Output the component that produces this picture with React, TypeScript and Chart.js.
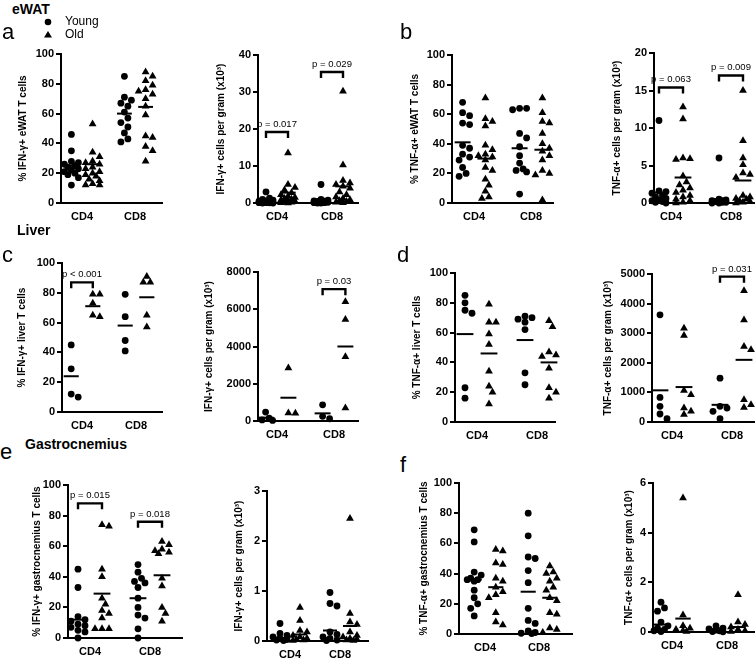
import React, { useEffect, useRef } from "react";
import { Chart, registerables } from "chart.js";
Chart.register(...registerables);

const FONT = "'Liberation Sans', Arial, Helvetica, sans-serif";
Chart.defaults.font.family = FONT;
Chart.defaults.color = "#000";

const categories = ["CD4", "CD8"];

// ---- eWAT IFN-γ % (a, left) ----
const aPctYoungCD4 = [46, 35, 28, 27, 26, 25, 24, 23, 22, 21, 20, 19, 17, 12];
const aPctOldCD4 = [53, 34, 31, 28, 27, 26, 24, 23, 21, 20, 19, 18, 16, 15, 13, 12, 12];
const aPctYoungCD8 = [85, 71, 69, 67, 65, 61, 57, 54, 51, 47, 43, 41];
const aPctOldCD8 = [88, 85, 82, 79, 76, 75, 73, 70, 65, 59, 45, 44, 38, 35, 28];
const aPctMeanYoung = [25, 60];
const aPctMeanOld = [26, 64.5];

// ---- eWAT IFN-γ per gram (a, right) ----
const aCntYoungCD4 = [3.0, 1.3, 1.0, 0.8, 0.6, 0.5, 0.4, 0.3, 0.2, 0.1, 0.1, 0.05, 0.0, 0.0];
const aCntOldCD4 = [13.5, 5.0, 4.2, 3.5, 2.8, 2.2, 1.8, 1.5, 1.2, 1.0, 0.8, 0.6, 0.5, 0.3, 0.2, 0.1, 0.0];
const aCntYoungCD8 = [5.0, 1.0, 0.8, 0.6, 0.5, 0.4, 0.3, 0.2, 0.1, 0.1, 0.0, 0.0];
const aCntOldCD8 = [30.2, 10.3, 6.1, 5.4, 5.0, 4.5, 4.0, 3.0, 2.2, 1.6, 1.2, 0.9, 0.6, 0.4, 0.2, 0.1];
const aCntMeanYoung = [0.7, 0.7];
const aCntMeanOld = [2.8, 4.5];

// ---- eWAT TNF-α % (b, left) ----
const bPctYoungCD4 = [68, 61, 59, 54, 53, 39, 37, 33, 31, 29, 24, 20, 18];
const bPctOldCD4 = [71, 57, 55, 52, 39, 36, 33, 32, 31, 29, 24, 22, 16, 12, 8, 4, 3];
const bPctYoungCD8 = [64, 64, 63, 47, 44, 38, 32, 27, 23, 22, 21, 6];
const bPctOldCD8 = [71, 61, 55, 54, 47, 40, 37, 35, 32, 29, 22, 20, 19, 2];
const bPctMeanYoung = [41, 37];
const bPctMeanOld = [30, 36];

// ---- eWAT TNF-α per gram (b, right) ----
const bCntYoungCD4 = [11.0, 1.6, 1.5, 1.3, 1.0, 0.8, 0.6, 0.4, 0.3, 0.2, 0.1, 0.0];
const bCntOldCD4 = [12.8, 11.2, 6.0, 5.9, 5.8, 3.6, 2.8, 2.4, 2.0, 1.7, 1.4, 1.0, 0.8, 0.5, 0.3, 0.1, 0.0];
const bCntYoungCD8 = [6.0, 0.5, 0.4, 0.3, 0.3, 0.2, 0.2, 0.1, 0.1, 0.0, 0.0];
const bCntOldCD8 = [15.0, 8.3, 6.0, 5.1, 4.0, 3.8, 3.4, 1.0, 0.8, 0.6, 0.5, 0.3, 0.2, 0.1, 0.0];
const bCntMeanYoung = [1.4, 0.3];
const bCntMeanOld = [3.4, 3.0];

// ---- Liver IFN-γ % (c, left) ----
const cPctYoungCD4 = [45, 29, 12, 10];
const cPctOldCD4 = [79, 79, 73, 65, 64];
const cPctYoungCD8 = [79, 64, 48, 41];
const cPctOldCD8 = [91, 87, 87, 65, 57];
const cPctMeanYoung = [24, 58];
const cPctMeanOld = [71, 77];

// ---- Liver IFN-γ per gram (c, right) ----
const cCntYoungCD4 = [480, 150, 60, 30];
const cCntOldCD4 = [2850, 430, 410];
const cCntYoungCD8 = [870, 250, 120];
const cCntOldCD8 = [6400, 5450, 3450, 700];
const cCntMeanYoung = [180, 410];
const cCntMeanOld = [1250, 4000];

// ---- Liver TNF-α % (d, left) ----
const dPctYoungCD4 = [85, 80, 75, 73, 23, 16];
const dPctOldCD4 = [79, 67, 67, 59, 52, 34, 24, 20, 12];
const dPctYoungCD8 = [71, 70, 69, 67, 62, 33, 25];
const dPctOldCD8 = [68, 64, 47, 45, 44, 36, 23, 20, 16];
const dPctMeanYoung = [59, 55];
const dPctMeanOld = [46, 40];

// ---- Liver TNF-α per gram (d, right) ----
const dCntYoungCD4 = [3620, 830, 530, 270, 110];
const dCntOldCD4 = [3170, 2920, 1060, 920, 470, 360, 250];
const dCntYoungCD8 = [1480, 530, 470, 360, 110];
const dCntOldCD8 = [4430, 3450, 2550, 2440, 750, 580, 490];
const dCntMeanYoung = [1070, 580];
const dCntMeanOld = [1180, 2100];

// ---- Gastrocnemius IFN-γ % (e, left) ----
const ePctYoungCD4 = [45, 33, 14, 12, 11, 9, 8, 7, 5, 4, 0];
const ePctOldCD4 = [74, 73, 45, 40, 26, 22, 18, 16, 13, 6, 6, 6];
const ePctYoungCD8 = [48, 43, 39, 37, 36, 33, 26, 20, 15, 13, 6, 0];
const ePctOldCD8 = [63, 61, 58, 57, 56, 55, 39, 34, 20, 16, 11];
const ePctMeanYoung = [12, 26];
const ePctMeanOld = [29, 41];

// ---- Gastrocnemius IFN-γ per gram (e, right) ----
const eCntYoungCD4 = [0.35, 0.15, 0.11, 0.08, 0.05, 0.03, 0.02, 0.01];
const eCntOldCD4 = [0.67, 0.41, 0.21, 0.18, 0.11, 0.08, 0.05, 0.03, 0.02, 0.01];
const eCntYoungCD8 = [0.97, 0.75, 0.7, 0.18, 0.13, 0.08, 0.05, 0.02, 0.01];
const eCntOldCD8 = [2.45, 0.55, 0.38, 0.33, 0.18, 0.11, 0.08, 0.05, 0.03, 0.02, 0.01];
const eCntMeanYoung = [0.06, 0.21];
const eCntMeanOld = [0.13, 0.3];

// ---- Gastrocnemius TNF-α % (f, left) ----
const fPctYoungCD4 = [69, 61, 41, 39, 37, 36, 36, 35, 29, 24, 20, 17, 12];
const fPctOldCD4 = [56, 55, 47, 46, 37, 35, 31, 28, 26, 24, 14, 8, 6];
const fPctYoungCD8 = [80, 65, 51, 50, 42, 34, 17, 9, 7, 2, 1, 0.5, 0.3];
const fPctOldCD8 = [45, 41, 40, 37, 35, 31, 29, 24, 22, 14, 13, 4, 3, 1];
const fPctMeanYoung = [36, 28];
const fPctMeanOld = [31, 24];

// ---- Gastrocnemius TNF-α per gram (f, right) ----
const fCntYoungCD4 = [1.2, 0.97, 0.84, 0.4, 0.25, 0.16, 0.1, 0.05, 0.02];
const fCntOldCD4 = [5.4, 0.68, 0.25, 0.15, 0.1, 0.05, 0.02];
const fCntYoungCD8 = [0.25, 0.16, 0.12, 0.08, 0.05, 0.02, 0.01];
const fCntOldCD8 = [1.5, 0.4, 0.3, 0.2, 0.1, 0.05, 0.02];
const fCntMeanYoung = [0.3, 0.06];
const fCntMeanOld = [0.54, 0.2];

type PVal = { cat: number; y: number; text: string };
type Geo = { L: number; T: number; R: number; B: number; tx: number; c4: number; c8: number };
type PanelDef = {
  title: string;
  yMax: number;
  yStep: number;
  young: number[][];
  old: number[][];
  meanYoung: number[];
  meanOld: number[];
  pvals: PVal[];
  geo: Geo;
};

const panels: PanelDef[] = [
  { title: "% IFN-γ+ eWAT T cells", yMax: 100, yStep: 20, young: [aPctYoungCD4, aPctYoungCD8], old: [aPctOldCD4, aPctOldCD8], meanYoung: aPctMeanYoung, meanOld: aPctMeanOld, pvals: [], geo: { L: 61, T: 54, R: 162, B: 203, tx: 23, c4: 82, c8: 135 } },
  { title: "IFN-γ+ cells per gram (x10³)", yMax: 40, yStep: 10, young: [aCntYoungCD4, aCntYoungCD8], old: [aCntOldCD4, aCntOldCD8], meanYoung: aCntMeanYoung, meanOld: aCntMeanOld, pvals: [{ cat: 1, y: 19.2, text: "p = 0.017" }, { cat: 2, y: 35.4, text: "p = 0.029" }], geo: { L: 258, T: 55, R: 358, B: 203, tx: 221, c4: 277, c8: 332 } },
  { title: "% TNF-α+ eWAT T cells", yMax: 100, yStep: 20, young: [bPctYoungCD4, bPctYoungCD8], old: [bPctOldCD4, bPctOldCD8], meanYoung: bPctMeanYoung, meanOld: bPctMeanOld, pvals: [], geo: { L: 452, T: 55, R: 553, B: 203, tx: 415, c4: 474, c8: 531 } },
  { title: "TNF-α+ cells per gram (x10³)", yMax: 20, yStep: 5, young: [bCntYoungCD4, bCntYoungCD8], old: [bCntOldCD4, bCntOldCD8], meanYoung: bCntMeanYoung, meanOld: bCntMeanOld, pvals: [{ cat: 1, y: 15.4, text: "p = 0.063" }, { cat: 2, y: 17.0, text: "p = 0.009" }], geo: { L: 654, T: 53, R: 757, B: 203, tx: 617, c4: 671, c8: 731 } },
  { title: "% IFN-γ+ liver T cells", yMax: 100, yStep: 20, young: [cPctYoungCD4, cPctYoungCD8], old: [cPctOldCD4, cPctOldCD8], meanYoung: cPctMeanYoung, meanOld: cPctMeanOld, pvals: [{ cat: 1, y: 87, text: "p < 0.001" }], geo: { L: 62, T: 263, R: 162, B: 412, tx: 22, c4: 82, c8: 136 } },
  { title: "IFN-γ+ cells per gram (x10³)", yMax: 8000, yStep: 2000, young: [cCntYoungCD4, cCntYoungCD8], old: [cCntOldCD4, cCntOldCD8], meanYoung: cCntMeanYoung, meanOld: cCntMeanOld, pvals: [{ cat: 2, y: 7080, text: "p = 0.03" }], geo: { L: 258, T: 272, R: 358, B: 421, tx: 209, c4: 277, c8: 334 } },
  { title: "% TNF-α+ liver T cells", yMax: 100, yStep: 20, young: [dPctYoungCD4, dPctYoungCD8], old: [dPctOldCD4, dPctOldCD8], meanYoung: dPctMeanYoung, meanOld: dPctMeanOld, pvals: [], geo: { L: 455, T: 273, R: 555, B: 422, tx: 417, c4: 477, c8: 537 } },
  { title: "TNF-α+ cells per gram (x10³)", yMax: 5000, yStep: 1000, young: [dCntYoungCD4, dCntYoungCD8], old: [dCntOldCD4, dCntOldCD8], meanYoung: dCntMeanYoung, meanOld: dCntMeanOld, pvals: [{ cat: 2, y: 4910, text: "p = 0.031" }], geo: { L: 652, T: 274, R: 757, B: 422, tx: 608, c4: 672, c8: 732 } },
  { title: "% IFN-γ+ gastrocnemius T cells", yMax: 100, yStep: 20, young: [ePctYoungCD4, ePctYoungCD8], old: [ePctOldCD4, ePctOldCD8], meanYoung: ePctMeanYoung, meanOld: ePctMeanOld, pvals: [{ cat: 1, y: 88, text: "p = 0.015" }, { cat: 2, y: 76, text: "p = 0.018" }], geo: { L: 68, T: 485, R: 182, B: 638, tx: 37, c4: 90, c8: 150 } },
  { title: "IFN-γ+ cells per gram (x10³)", yMax: 3, yStep: 1, young: [eCntYoungCD4, eCntYoungCD8], old: [eCntOldCD4, eCntOldCD8], meanYoung: eCntMeanYoung, meanOld: eCntMeanOld, pvals: [], geo: { L: 267, T: 491, R: 368, B: 641, tx: 239, c4: 290, c8: 340 } },
  { title: "% TNF-α+ gastrocnemius T cells", yMax: 100, yStep: 20, young: [fPctYoungCD4, fPctYoungCD8], old: [fPctOldCD4, fPctOldCD8], meanYoung: fPctMeanYoung, meanOld: fPctMeanOld, pvals: [], geo: { L: 459, T: 483, R: 572, B: 634, tx: 424, c4: 485, c8: 539 } },
  { title: "TNF-α+ cells per gram (x10³)", yMax: 6, yStep: 2, young: [fCntYoungCD4, fCntYoungCD8], old: [fCntOldCD4, fCntOldCD8], meanYoung: fCntMeanYoung, meanOld: fCntMeanOld, pvals: [], geo: { L: 653, T: 483, R: 757, B: 632, tx: 629, c4: 672, c8: 727 } },
];

const PAD_TOP = 18;
const PAD_RIGHT = 12;
const X_H = 24;
const GROUP_OFF = 0.2;
const MEAN_HALF = 0.14;

// simple deterministic beeswarm: horizontal pixel offsets so markers do not sit on top of each other
function swarm(values: number[], pxPerY: number): number[] {
  const order = values.map((_, i) => i).sort((a, b) => values[b] - values[a]);
  const placed: { x: number; y: number }[] = [];
  const offs = new Array(values.length).fill(0);
  const cands = [0, 3.5, -3.5, 7, -7];
  const D = 6.5;
  for (const i of order) {
    const y = values[i] * pxPerY;
    let best = 0;
    let bestScore = -Infinity;
    for (const c of cands) {
      let minD = Infinity;
      for (const p of placed) {
        const d = Math.hypot(p.x - c, p.y - y);
        if (d < minD) minD = d;
      }
      if (minD >= D) {
        best = c;
        break;
      }
      if (minD > bestScore) {
        bestScore = minD;
        best = c;
      }
    }
    placed.push({ x: best, y });
    offs[i] = best;
  }
  return offs;
}

const pvalPlugin = {
  id: "pvals",
  afterDatasetsDraw(chart: any, _args: any, opts: any) {
    const items = (opts && opts.items) || [];
    const { ctx } = chart;
    const xs = chart.scales.x;
    const ys = chart.scales.y;
    ctx.save();
    ctx.font = `9.5px ${FONT}`;
    ctx.fillStyle = "#000";
    ctx.textAlign = "center";
    ctx.textBaseline = "bottom";
    for (const it of items) {
      ctx.fillText(it.text, xs.getPixelForValue(it.cat), ys.getPixelForValue(it.y) - 3);
    }
    ctx.restore();
  },
};

function canvasBox(g: Geo) {
  const left = g.tx - 8;
  const top = g.T - PAD_TOP;
  const width = g.R + PAD_RIGHT - left;
  const height = g.B + X_H - top;
  return { left, top, width, height };
}

function PanelChart({ p }: { p: PanelDef }) {
  const ref = useRef<HTMLCanvasElement>(null);
  const box = canvasBox(p.geo);
  useEffect(() => {
    const g = p.geo;
    const unit = g.c8 - g.c4;
    const xMin = 1 - (g.c4 - g.L) / unit;
    const xMax = 2 + (g.R - g.c8) / unit;
    const plotH = g.B - g.T;
    const pxPerY = plotH / p.yMax;
    const leg = (6 / plotH) * p.yMax;

    const datasets: any[] = [];
    categories.forEach((_, ci) => {
      const c = ci + 1;
      const yv = p.young[ci];
      const yo = swarm(yv, pxPerY);
      datasets.push({
        data: yv.map((v, i) => ({ x: c - GROUP_OFF + yo[i] / unit, y: v })),
        pointStyle: "circle",
        pointRadius: 3.4,
        backgroundColor: "#000",
        borderWidth: 0,
        showLine: false,
        clip: false,
      });
      const ov = p.old[ci];
      const oo = swarm(ov, pxPerY);
      datasets.push({
        data: ov.map((v, i) => ({ x: c + GROUP_OFF + oo[i] / unit, y: v })),
        pointStyle: "triangle",
        pointRadius: 4.5,
        backgroundColor: "#000",
        borderWidth: 0,
        showLine: false,
        clip: false,
      });
      [
        [c - GROUP_OFF, p.meanYoung[ci]],
        [c + GROUP_OFF, p.meanOld[ci]],
      ].forEach(([cx, m]) => {
        datasets.push({
          data: [
            { x: cx - MEAN_HALF, y: m },
            { x: cx + MEAN_HALF, y: m },
          ],
          showLine: true,
          borderColor: "#000",
          borderWidth: 2,
          pointRadius: 0,
          clip: false,
        });
      });
    });
    p.pvals.forEach((pv) => {
      datasets.push({
        data: [
          { x: pv.cat - GROUP_OFF, y: pv.y - leg },
          { x: pv.cat - GROUP_OFF, y: pv.y },
          { x: pv.cat + GROUP_OFF, y: pv.y },
          { x: pv.cat + GROUP_OFF, y: pv.y - leg },
        ],
        showLine: true,
        borderColor: "#000",
        borderWidth: 2.4,
        pointRadius: 0,
        clip: false,
      });
    });

    const yw = g.L - box.left;
    const chart = new Chart(ref.current as HTMLCanvasElement, {
      type: "scatter",
      data: { datasets },
      plugins: [pvalPlugin as any],
      options: {
        responsive: false,
        animation: false,
        events: [],
        layout: { padding: { top: PAD_TOP, right: PAD_RIGHT, left: 0, bottom: 0 } },
        plugins: {
          legend: { display: false },
          tooltip: { enabled: false },
          pvals: { items: p.pvals },
        } as any,
        scales: {
          x: {
            type: "linear",
            min: xMin,
            max: xMax,
            afterBuildTicks: (s: any) => {
              s.ticks = [{ value: 1 }, { value: 2 }];
            },
            afterFit: (s: any) => {
              s.height = X_H;
            },
            ticks: {
              callback: (v: any) => (v === 1 ? categories[0] : v === 2 ? categories[1] : ""),
              font: { size: 11, weight: "bold" },
              color: "#000",
              padding: 7,
              autoSkip: false,
              maxRotation: 0,
            },
            grid: { display: false, drawTicks: false, tickLength: 0 },
            border: { display: true, color: "#000", width: 2 },
          },
          y: {
            type: "linear",
            min: 0,
            max: p.yMax,
            afterFit: (s: any) => {
              s.width = yw;
            },
            ticks: {
              stepSize: p.yStep,
              font: { size: 11, weight: "bold" },
              color: "#000",
              padding: 2,
              callback: (v: any) => String(v),
            },
            grid: { display: true, drawOnChartArea: false, drawTicks: true, tickLength: 5, color: "#000", lineWidth: 2 },
            border: { display: true, color: "#000", width: 2 },
            title: {
              display: true,
              text: p.title,
              color: "#000",
              font: { size: 10, weight: "bold" },
              padding: { top: 2, bottom: 0 },
            },
          },
        } as any,
      },
    });
    return () => chart.destroy();
  }, []);
  return (
    <canvas
      ref={ref}
      width={box.width}
      height={box.height}
      style={{ position: "absolute", left: box.left, top: box.top, width: box.width, height: box.height }}
    />
  );
}

function Txt({ x, base, size, bold, children }: { x: number; base: number; size: number; bold?: boolean; children: React.ReactNode }) {
  return (
    <div
      style={{
        position: "absolute",
        left: x,
        top: base - 0.905 * size,
        fontSize: size,
        lineHeight: `${size * 1.117}px`,
        fontWeight: bold ? "bold" : "normal",
        whiteSpace: "nowrap",
        fontFamily: FONT,
        color: "#000",
      }}
    >
      {children}
    </div>
  );
}

export default function App() {
  return (
    <div style={{ position: "absolute", left: 0, top: 0, width: 755, height: 659, overflow: "hidden", background: "#fff" }}>
      {panels.map((p, i) => (
        <PanelChart key={i} p={p} />
      ))}
      <Txt x={12} base={15} size={14} bold>eWAT</Txt>
      <svg style={{ position: "absolute", left: 42, top: 16 }} width={12} height={24}>
        <circle cx={6} cy={6} r={3.3} fill="#000" />
        <polygon points="6,15 10,21.5 2,21.5" fill="#000" />
      </svg>
      <Txt x={65} base={26} size={12}>Young</Txt>
      <Txt x={65} base={39} size={12}>Old</Txt>
      <Txt x={2} base={40} size={22}>a</Txt>
      <Txt x={400} base={40} size={22}>b</Txt>
      <Txt x={17} base={236} size={14} bold>Liver</Txt>
      <Txt x={2} base={263} size={22}>c</Txt>
      <Txt x={397} base={263} size={22}>d</Txt>
      <Txt x={25} base={450} size={14} bold>Gastrocnemius</Txt>
      <Txt x={0} base={460} size={22}>e</Txt>
      <Txt x={400} base={473} size={22}>f</Txt>
    </div>
  );
}
